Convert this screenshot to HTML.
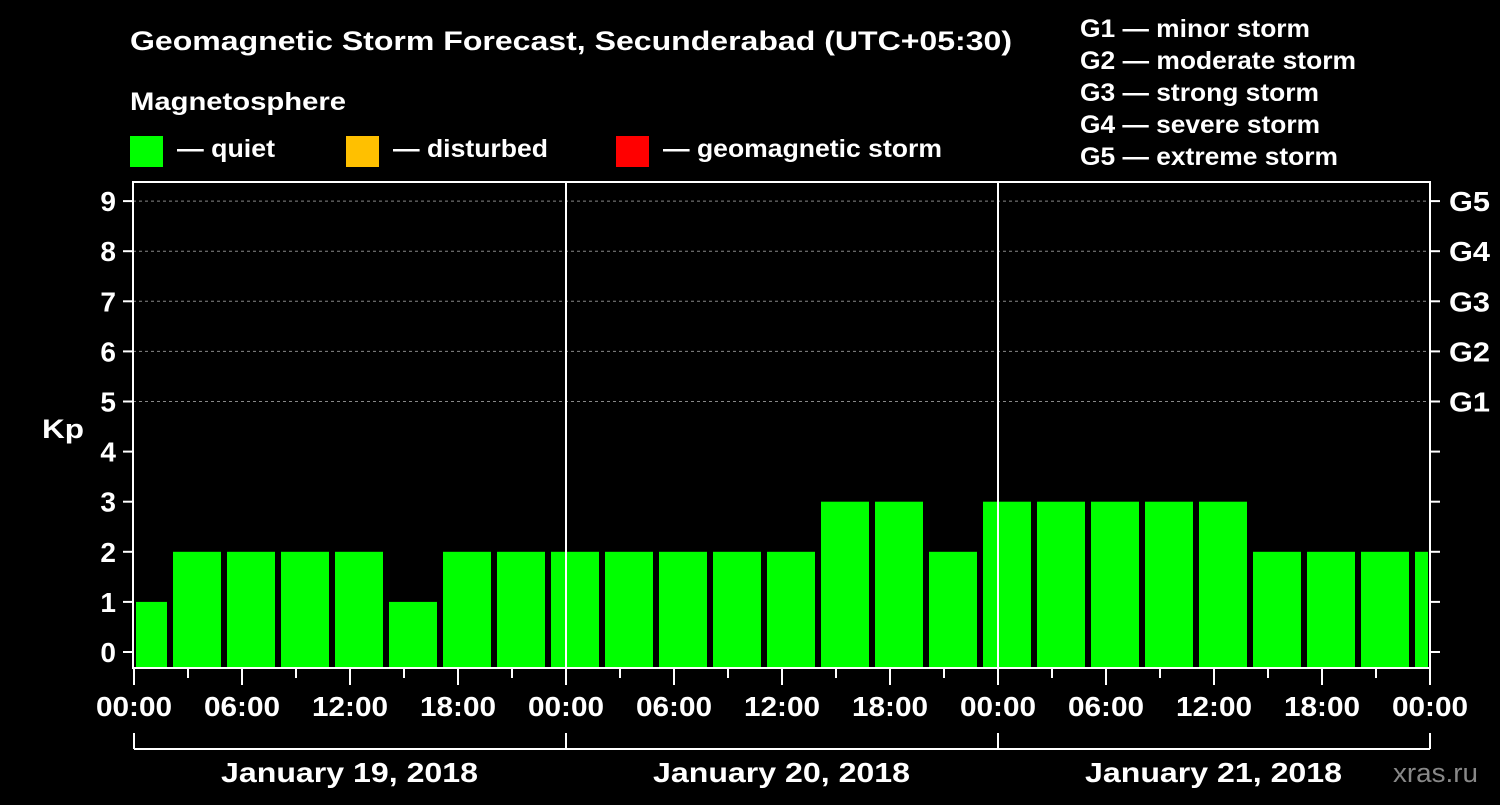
<!DOCTYPE html>
<html><head><meta charset="utf-8"><style>
body{margin:0;background:#000;}
svg text{font-family:"Liberation Sans",sans-serif;font-weight:bold;fill:#fff;}
</style></head><body>
<svg id="chart" width="1500" height="800" xmlns="http://www.w3.org/2000/svg">
<rect width="1500" height="800" fill="#000"/>
<text x="130" y="50" font-size="27" textLength="882" lengthAdjust="spacingAndGlyphs">Geomagnetic Storm Forecast, Secunderabad (UTC+05:30)</text>
<text x="130" y="110" font-size="25" textLength="216" lengthAdjust="spacingAndGlyphs">Magnetosphere</text>
<g><rect x="130" y="136" width="33" height="31" fill="#00ff00"/><text x="177" y="157" font-size="25" textLength="98" lengthAdjust="spacingAndGlyphs">— quiet</text></g>
<g><rect x="346" y="136" width="33" height="31" fill="#ffc000"/><text x="393" y="157" font-size="25" textLength="155" lengthAdjust="spacingAndGlyphs">— disturbed</text></g>
<g><rect x="616" y="136" width="33" height="31" fill="#ff0000"/><text x="663" y="157" font-size="25" textLength="279" lengthAdjust="spacingAndGlyphs">— geomagnetic storm</text></g>
<g font-size="25">
<text x="1080" y="37" textLength="230" lengthAdjust="spacingAndGlyphs">G1 — minor storm</text>
<text x="1080" y="69" textLength="276" lengthAdjust="spacingAndGlyphs">G2 — moderate storm</text>
<text x="1080" y="101" textLength="239" lengthAdjust="spacingAndGlyphs">G3 — strong storm</text>
<text x="1080" y="133" textLength="240" lengthAdjust="spacingAndGlyphs">G4 — severe storm</text>
<text x="1080" y="165" textLength="258" lengthAdjust="spacingAndGlyphs">G5 — extreme storm</text>
</g>
<text x="42" y="438" font-size="27" textLength="42" lengthAdjust="spacingAndGlyphs">Kp</text>
<text x="1393" y="782" font-size="27" textLength="85" lengthAdjust="spacingAndGlyphs" style="fill:#888;font-weight:normal">xras.ru</text>
<g id="plot"></g>
</svg>
<script>
const kpValues=[1,2,2,2,2,1,2,2,2,2,2,2,2,3,3,2,3,3,3,3,3,2,2,2,2];
const yTicks=["0","1","2","3","4","5","6","7","8","9"];
const gLabels=["G1","G2","G3","G4","G5"];
const xTickLabels=["00:00","06:00","12:00","18:00","00:00","06:00","12:00","18:00","00:00","06:00","12:00","18:00","00:00"];
const dateLabels=["January 19, 2018","January 20, 2018","January 21, 2018"];
const NS="http://www.w3.org/2000/svg";
const g=document.getElementById('plot');
const L=133,R=1430,T=182,B=668;
const hourPx=18;
const xh=h=>L+1+h*hourPx;
const y=v=>652-v*50.1;
function mk(t,a){const e=document.createElementNS(NS,t);for(const k in a)e.setAttribute(k,a[k]);g.appendChild(e);return e;}
kpValues.forEach((v,i)=>{
 const c=xh(0.5+3*i);
 let x0=Math.max(c-24,L+3),x1=Math.min(c+24,R-2);
 const col=v>=5?'#ff0000':(v>=4?'#ffc000':'#00ff00');
 const r=mk('rect',{x:x0,y:y(v),width:x1-x0,height:B-y(v),fill:col});
 
 
});
for(let v=5;v<=9;v++){const l=mk('line',{x1:L,x2:R,y1:y(v),y2:y(v),stroke:'#888','stroke-dasharray':'3,3','stroke-width':1});

}
const f=mk('rect',{x:L,y:T,width:R-L,height:B-T,fill:'none',stroke:'#fff','stroke-width':2});


[1,2].forEach(d=>{const l=mk('line',{x1:xh(24*d),x2:xh(24*d),y1:T,y2:B,stroke:'#fff','stroke-width':2});

});
yTicks.forEach((t,i)=>{
 mk('line',{x1:L-10,x2:L,y1:y(i),y2:y(i),stroke:'#fff','stroke-width':2});
 mk('line',{x1:R,x2:R+10,y1:y(i),y2:y(i),stroke:'#fff','stroke-width':2});
 const e=mk('text',{x:116,y:y(i)+10,'font-size':28,'text-anchor':'end'});e.textContent=t;
 
 
});
gLabels.forEach((t,i)=>{const e=mk('text',{x:1449,y:y(5+i)+10,'font-size':28,textLength:41,lengthAdjust:'spacingAndGlyphs'});e.textContent=t;
 
 });
for(let h=0;h<=72;h+=3){const long=h%6===0;mk('line',{x1:xh(h),x2:xh(h),y1:B,y2:B+(long?17:10),stroke:'#fff','stroke-width':2});}
xTickLabels.forEach((t,i)=>{const e=mk('text',{x:xh(6*i)-38,y:716,'font-size':28,textLength:76,lengthAdjust:'spacingAndGlyphs'});e.textContent=t;
 
 });
mk('line',{x1:xh(0),x2:xh(72),y1:749,y2:749,stroke:'#fff','stroke-width':2});
for(let d=0;d<=3;d++)mk('line',{x1:xh(24*d),x2:xh(24*d),y1:733,y2:749,stroke:'#fff','stroke-width':2});
dateLabels.forEach((t,i)=>{const e=mk('text',{x:xh(24*i+12)-129,y:782,'font-size':28,textLength:257,lengthAdjust:'spacingAndGlyphs'});e.textContent=t;
 
 });
</script>
</body></html>
